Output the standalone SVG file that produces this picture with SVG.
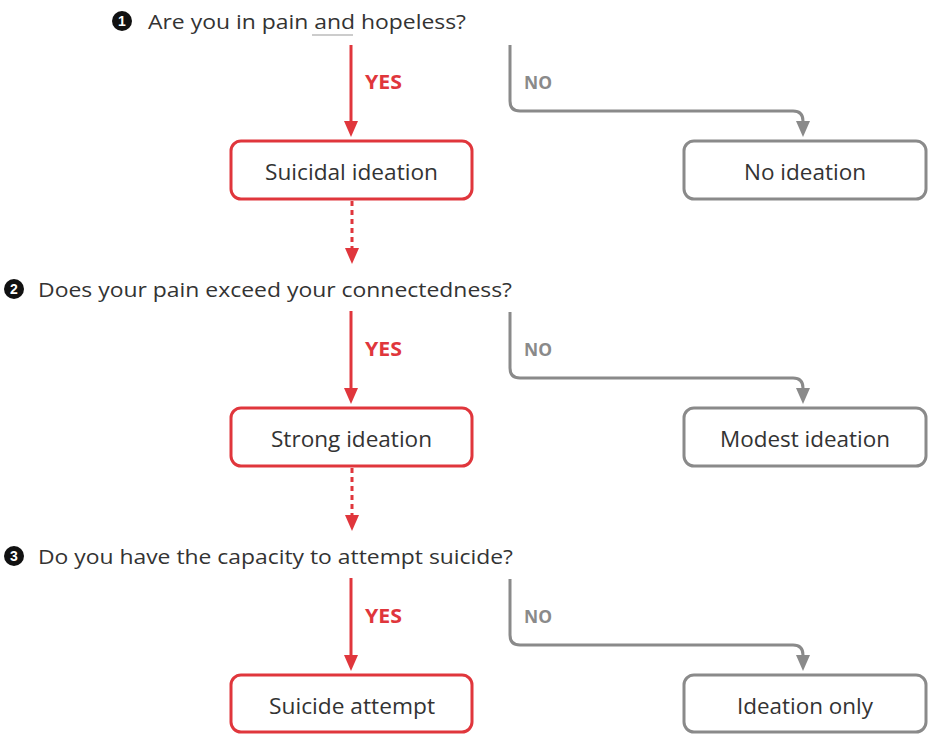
<svg xmlns="http://www.w3.org/2000/svg" width="929" height="734" viewBox="0 0 929 734">
<defs>
<style>
.q{font-family:"Open Sans","Liberation Sans",sans-serif;font-size:20px;fill:#333}
.bt{font-family:"Open Sans","Liberation Sans",sans-serif;font-size:21px;fill:#333}
.yes{font-family:"Open Sans","Liberation Sans",sans-serif;font-size:20px;font-weight:bold;fill:#e0363c}
.no{font-family:"Open Sans","Liberation Sans",sans-serif;font-size:18px;font-weight:bold;fill:#8a8a8a}
.num{font-family:"Liberation Sans",sans-serif;font-size:14px;font-weight:bold;fill:#fff;text-anchor:middle}
.rbox{fill:#fff;stroke:#e0363c;stroke-width:3}
.gbox{fill:#fff;stroke:#8a8a8a;stroke-width:3}
.rl{fill:none;stroke:#e0363c;stroke-width:3}
.rd{fill:none;stroke:#e0363c;stroke-width:3;stroke-dasharray:5 4}
.gl{fill:none;stroke:#8a8a8a;stroke-width:3}
.rh{fill:#e0363c}
.gh{fill:#8a8a8a}
</style>
</defs>
<rect width="929" height="734" fill="#fff"/>

<g id="q1">
<circle cx="122" cy="21" r="10" fill="#111"/>
<text class="num" x="122" y="26">1</text>
<text class="q" x="148" y="29" textLength="318" lengthAdjust="spacingAndGlyphs">Are you in pain and hopeless?</text>
<line x1="312" y1="35" x2="353" y2="35" stroke="#bbb" stroke-width="1.5"/>
</g>
<g id="q2">
<circle cx="14" cy="289" r="10" fill="#111"/>
<text class="num" x="14" y="294">2</text>
<text class="q" x="38" y="297" textLength="474" lengthAdjust="spacingAndGlyphs">Does your pain exceed your connectedness?</text>
</g>
<g id="q3">
<circle cx="14" cy="556" r="10" fill="#111"/>
<text class="num" x="14" y="561">3</text>
<text class="q" x="38" y="564" textLength="475" lengthAdjust="spacingAndGlyphs">Do you have the capacity to attempt suicide?</text>
</g>

<g id="connectors">
<!-- row 1 -->
<line class="rl" x1="351" y1="45" x2="351" y2="123"/>
<polygon class="rh" points="344,121 358,121 351,137"/>
<line class="rd" x1="352" y1="201" x2="352" y2="249"/>
<polygon class="rh" points="345,248 359,248 352,264"/>
<path class="gl" d="M510 45 V101 Q510 111 520 111 H793 Q803 111 803 121 V123"/>
<polygon class="gh" points="796,121 810,121 803,137"/>
<text class="yes" x="365" y="89" textLength="37" lengthAdjust="spacingAndGlyphs">YES</text>
<text class="no" x="524" y="89" textLength="28" lengthAdjust="spacingAndGlyphs">NO</text>
<!-- row 2 -->
<line class="rl" x1="351" y1="311" x2="351" y2="390"/>
<polygon class="rh" points="344,388 358,388 351,404"/>
<line class="rd" x1="352" y1="468" x2="352" y2="516"/>
<polygon class="rh" points="345,515 359,515 352,531"/>
<path class="gl" d="M510 312 V368 Q510 378 520 378 H793 Q803 378 803 388 V390"/>
<polygon class="gh" points="796,388 810,388 803,404"/>
<text class="yes" x="365" y="356" textLength="37" lengthAdjust="spacingAndGlyphs">YES</text>
<text class="no" x="524" y="356" textLength="28" lengthAdjust="spacingAndGlyphs">NO</text>
<!-- row 3 -->
<line class="rl" x1="351" y1="578" x2="351" y2="657"/>
<polygon class="rh" points="344,655 358,655 351,671"/>
<path class="gl" d="M510 579 V635 Q510 645 520 645 H793 Q803 645 803 655 V657"/>
<polygon class="gh" points="796,655 810,655 803,671"/>
<text class="yes" x="365" y="623" textLength="37" lengthAdjust="spacingAndGlyphs">YES</text>
<text class="no" x="524" y="623" textLength="28" lengthAdjust="spacingAndGlyphs">NO</text>
</g>

<g id="suicidal-ideation">
<rect class="rbox" x="231" y="141" width="241" height="58" rx="10"/>
<text class="bt" x="265" y="180" textLength="173" lengthAdjust="spacingAndGlyphs">Suicidal ideation</text>
</g>
<g id="no-ideation">
<rect class="gbox" x="684" y="141" width="242" height="58" rx="10"/>
<text class="bt" x="744" y="180" textLength="122" lengthAdjust="spacingAndGlyphs">No ideation</text>
</g>
<g id="strong-ideation">
<rect class="rbox" x="231" y="408" width="241" height="58" rx="10"/>
<text class="bt" x="271" y="447" textLength="161" lengthAdjust="spacingAndGlyphs">Strong ideation</text>
</g>
<g id="modest-ideation">
<rect class="gbox" x="684" y="408" width="242" height="58" rx="10"/>
<text class="bt" x="720" y="447" textLength="170" lengthAdjust="spacingAndGlyphs">Modest ideation</text>
</g>
<g id="suicide-attempt">
<rect class="rbox" x="231" y="675" width="241" height="57" rx="10"/>
<text class="bt" x="269" y="714" textLength="166" lengthAdjust="spacingAndGlyphs">Suicide attempt</text>
</g>
<g id="ideation-only">
<rect class="gbox" x="684" y="675" width="242" height="57" rx="10"/>
<text class="bt" x="737" y="714" textLength="136" lengthAdjust="spacingAndGlyphs">Ideation only</text>
</g>
</svg>
